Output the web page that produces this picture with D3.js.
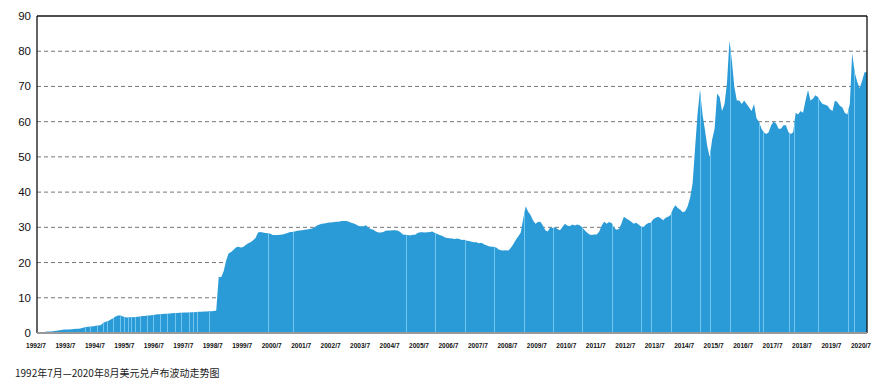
<!DOCTYPE html>
<html>
<head>
<meta charset="utf-8">
<script src="https://cdn.jsdelivr.net/npm/d3@7"></script>
<style>
  body { margin: 0; background: #fff; }
  #chart { width: 882px; height: 385px; }
  .y-label { font-family: "Liberation Sans", Arial, sans-serif; font-size: 11.5px; fill: #111; }
  .x-label { font-family: "Liberation Sans", Arial, sans-serif; font-size: 7.5px; font-weight: bold; fill: #111; }
  .caption { font-family: "Noto Sans CJK SC", "Liberation Sans", sans-serif; font-size: 10px; fill: #222; }
</style>
</head>
<body>
<div id="chart"></div>
<script>
// USD/RUB monthly, starting 1992/7 (new roubles)
let startMonth = new Date(1992, 6, 1);

let rate1990s = [
    0.13, 0.16, 0.2, 0.3, 0.4, 0.41,                                   // 1992 Jul-Dec
    0.45, 0.55, 0.65, 0.75, 0.85, 1.0, 1.0, 1.0, 1.05, 1.15, 1.18, 1.22, // 1993
    1.35, 1.55, 1.7, 1.8, 1.88, 1.95, 2.05, 2.15, 2.3, 2.9, 3.2, 3.4,    // 1994
    3.8, 4.2, 4.7, 5.0, 5.0, 4.7, 4.45, 4.4, 4.45, 4.5, 4.55, 4.6,       // 1995
    4.7, 4.8, 4.85, 4.95, 5.0, 5.1, 5.2, 5.3, 5.35, 5.4, 5.45, 5.5,      // 1996
    5.55, 5.6, 5.65, 5.7, 5.75, 5.77, 5.8, 5.82, 5.85, 5.88, 5.9, 5.95,  // 1997
    6.0, 6.05, 6.1, 6.12, 6.15, 6.18, 6.22, 6.4, 16.0, 15.8, 17.5, 20.5, // 1998
    22.6, 23.0, 23.6, 24.3, 24.5, 24.3, 24.4, 25.0, 25.5, 25.8, 26.3, 27.0 // 1999
];
let rate2000s = [
    28.5, 28.7, 28.5, 28.4, 28.3, 28.2, 27.8, 27.8, 27.8, 27.9, 28.0, 28.2, // 2000
    28.4, 28.7, 28.7, 28.8, 29.0, 29.1, 29.2, 29.3, 29.4, 29.5, 29.7, 30.0, // 2001
    30.5, 30.8, 31.0, 31.1, 31.2, 31.4, 31.4, 31.5, 31.6, 31.6, 31.8, 31.8, // 2002
    31.8, 31.6, 31.3, 31.1, 30.8, 30.4, 30.3, 30.3, 30.6, 29.8, 29.5, 29.3, // 2003
    28.8, 28.5, 28.5, 28.7, 29.0, 29.1, 29.1, 29.2, 29.2, 29.0, 28.6, 28.0, // 2004
    27.9, 27.8, 27.7, 27.9, 27.9, 28.4, 28.6, 28.6, 28.5, 28.6, 28.7, 28.8, // 2005
    28.4, 28.1, 27.8, 27.6, 27.2, 27.0, 26.9, 26.8, 26.7, 26.8, 26.7, 26.4, // 2006
    26.5, 26.2, 26.1, 25.9, 25.8, 25.8, 25.5, 25.6, 25.2, 24.9, 24.6, 24.5, // 2007
    24.5, 24.3, 23.7, 23.5, 23.4, 23.5, 23.4, 24.2, 25.3, 26.5, 27.5, 28.5, // 2008
    32.5, 36.0, 34.5, 33.5, 32.0, 31.0, 31.5, 31.6, 30.5, 29.2, 28.8, 30.0  // 2009
];
let rate2010s = [
    29.8, 30.0, 29.5, 29.2, 30.0, 31.0, 30.5, 30.3, 30.8, 30.5, 30.8, 30.6, // 2010
    30.0, 29.2, 28.5, 28.0, 27.8, 28.0, 28.0, 28.8, 30.5, 31.6, 31.0, 31.5, // 2011
    31.2, 29.9, 29.3, 29.5, 31.0, 33.0, 32.5, 32.1, 31.6, 31.0, 31.3, 30.8, // 2012
    30.2, 30.1, 30.8, 31.2, 31.3, 32.3, 32.7, 33.0, 32.6, 32.0, 32.7, 33.0, // 2013
    33.5, 35.3, 36.3, 35.5, 35.0, 34.3, 34.6, 36.0, 38.5, 42.5, 52.5, 62.0, // 2014
    69.0, 62.0, 58.0, 53.0, 50.0, 55.0, 58.0, 68.0, 67.0, 63.0, 65.0, 71.0, // 2015
    83.0, 77.0, 70.0, 66.0, 66.0, 65.0, 66.0, 65.0, 64.0, 63.0, 65.0, 61.0, // 2016
    60.0, 58.0, 57.0, 56.5, 57.0, 59.0, 60.0, 59.5, 58.0, 58.0, 59.0, 59.0, // 2017
    57.0, 56.5, 57.0, 62.5, 62.0, 63.0, 62.5, 66.0, 69.0, 66.0, 66.5, 67.5, // 2018
    67.0, 65.8, 65.0, 64.8, 64.5, 63.5, 63.0, 66.0, 65.5, 64.5, 64.0, 62.5  // 2019
];
let rate2020s = [62.0, 65.0, 79.5, 74.0, 71.5, 69.5, 71.5, 74.0];     // 2020 Jan-Aug

// days with no quote (holidays) show up as pale stripes in the fill
let gapDates = [
    "1994-02-15", "1994-04-18", "1994-07-12", "1994-09-27", "1994-11-15",
    "1995-01-28", "1995-04-24", "1995-06-12", "1995-08-03", "1995-09-09",
    "1995-10-28", "1995-12-28", "1996-03-24", "1996-06-06", "1996-09-03",
    "1996-11-28", "1997-03-06", "1997-05-18", "1997-08-28", "1997-10-15",
    "1997-12-03", "1998-05-01", "2000-05-01", "2001-03-15",
    "2005-01-05", "2006-01-05", "2007-01-05", "2008-01-05", "2009-01-05",
    "2010-01-05", "2011-01-05", "2012-01-05", "2013-01-05", "2013-05-05",
    "2014-01-05", "2015-01-05", "2015-05-05", "2016-01-05", "2017-01-05",
    "2017-02-20", "2018-01-05", "2018-03-05", "2019-01-05", "2020-01-05",
    "2020-03-20"
];

let yTicks = [0, 10, 20, 30, 40, 50, 60, 70, 80, 90];
let gridTicks = [10, 20, 30, 40, 50, 60, 70, 80];
let xTickYears = d3.range(1992, 2021);
let caption = "1992年7月—2020年8月美元兑卢布波动走势图";

let rates = rate1990s.concat(rate2000s, rate2010s, rate2020s);
let data = rates.map(function(v, i) {
    return {date: d3.timeMonth.offset(startMonth, i), value: v};
});
let endDate = new Date(2020, 8, 1);
data.push({date: endDate, value: rates[rates.length - 1]});

let parseDay = d3.timeParse("%Y-%m-%d");

let margin = {top: 16, right: 15, bottom: 52, left: 37};
let width = 882 - margin.left - margin.right;
let height = 385 - margin.top - margin.bottom;

let svg = d3.select("#chart")
    .append("svg")
    .attr("width", 882)
    .attr("height", 385);

let g = svg.append("g")
    .attr("transform", "translate(" + margin.left + "," + margin.top + ")");

let x = d3.scaleTime()
    .domain([startMonth, endDate])
    .range([0, width]);

let y = d3.scaleLinear()
    .domain([0, 90])
    .range([height, 0]);

// gridlines
g.selectAll(".grid")
    .data(gridTicks)
    .enter().append("line")
    .attr("class", "grid")
    .attr("x1", 0)
    .attr("x2", width)
    .attr("y1", function(d) { return y(d); })
    .attr("y2", function(d) { return y(d); })
    .style("stroke", "#777")
    .style("stroke-width", 1)
    .style("stroke-dasharray", "4,3");

// area
let area = d3.area()
    .x(function(d) { return x(d.date); })
    .y0(y(0))
    .y1(function(d) { return y(d.value); });

g.append("clipPath")
    .attr("id", "area-clip")
    .append("path")
    .datum(data)
    .attr("d", area);

g.append("path")
    .datum(data)
    .attr("d", area)
    .style("fill", "#2a9bd7")
    .style("stroke", "none");

g.append("g")
    .attr("clip-path", "url(#area-clip)")
    .selectAll(".gap")
    .data(gapDates)
    .enter().append("line")
    .attr("class", "gap")
    .attr("x1", function(d) { return Math.round(x(parseDay(d))) + 0.5; })
    .attr("x2", function(d) { return Math.round(x(parseDay(d))) + 0.5; })
    .attr("y1", 0)
    .attr("y2", height)
    .style("stroke", "#72c5ee")
    .style("stroke-width", 1);

// frame
g.append("line")
    .attr("x1", 0).attr("x2", 0)
    .attr("y1", 0).attr("y2", height)
    .style("stroke", "#111").style("stroke-width", 1.3);
g.append("line")
    .attr("x1", 0).attr("x2", width)
    .attr("y1", 0).attr("y2", 0)
    .style("stroke", "#111").style("stroke-width", 1.3);
g.append("line")
    .attr("x1", width).attr("x2", width)
    .attr("y1", 0).attr("y2", height)
    .style("stroke", "#111").style("stroke-width", 1.3);
g.append("line")
    .attr("x1", 0).attr("x2", width)
    .attr("y1", height).attr("y2", height)
    .style("stroke", "#999").style("stroke-width", 1.8);

// y labels
g.selectAll(".y-label")
    .data(yTicks)
    .enter().append("text")
    .attr("class", "y-label")
    .attr("x", -6)
    .attr("y", function(d) { return y(d); })
    .attr("dy", "0.35em")
    .attr("text-anchor", "end")
    .text(function(d) { return d; });

// x labels
g.selectAll(".x-label")
    .data(xTickYears)
    .enter().append("text")
    .attr("class", "x-label")
    .attr("x", function(d) { return x(new Date(d, 6, 1)) - 1; })
    .attr("y", height + 15)
    .attr("text-anchor", "middle")
    .attr("textLength", 20)
    .attr("lengthAdjust", "spacingAndGlyphs")
    .text(function(d) { return d + "/7"; });

svg.append("text")
    .attr("class", "caption")
    .attr("x", 15)
    .attr("y", 377)
    .text(caption);
</script>
</body>
</html>
